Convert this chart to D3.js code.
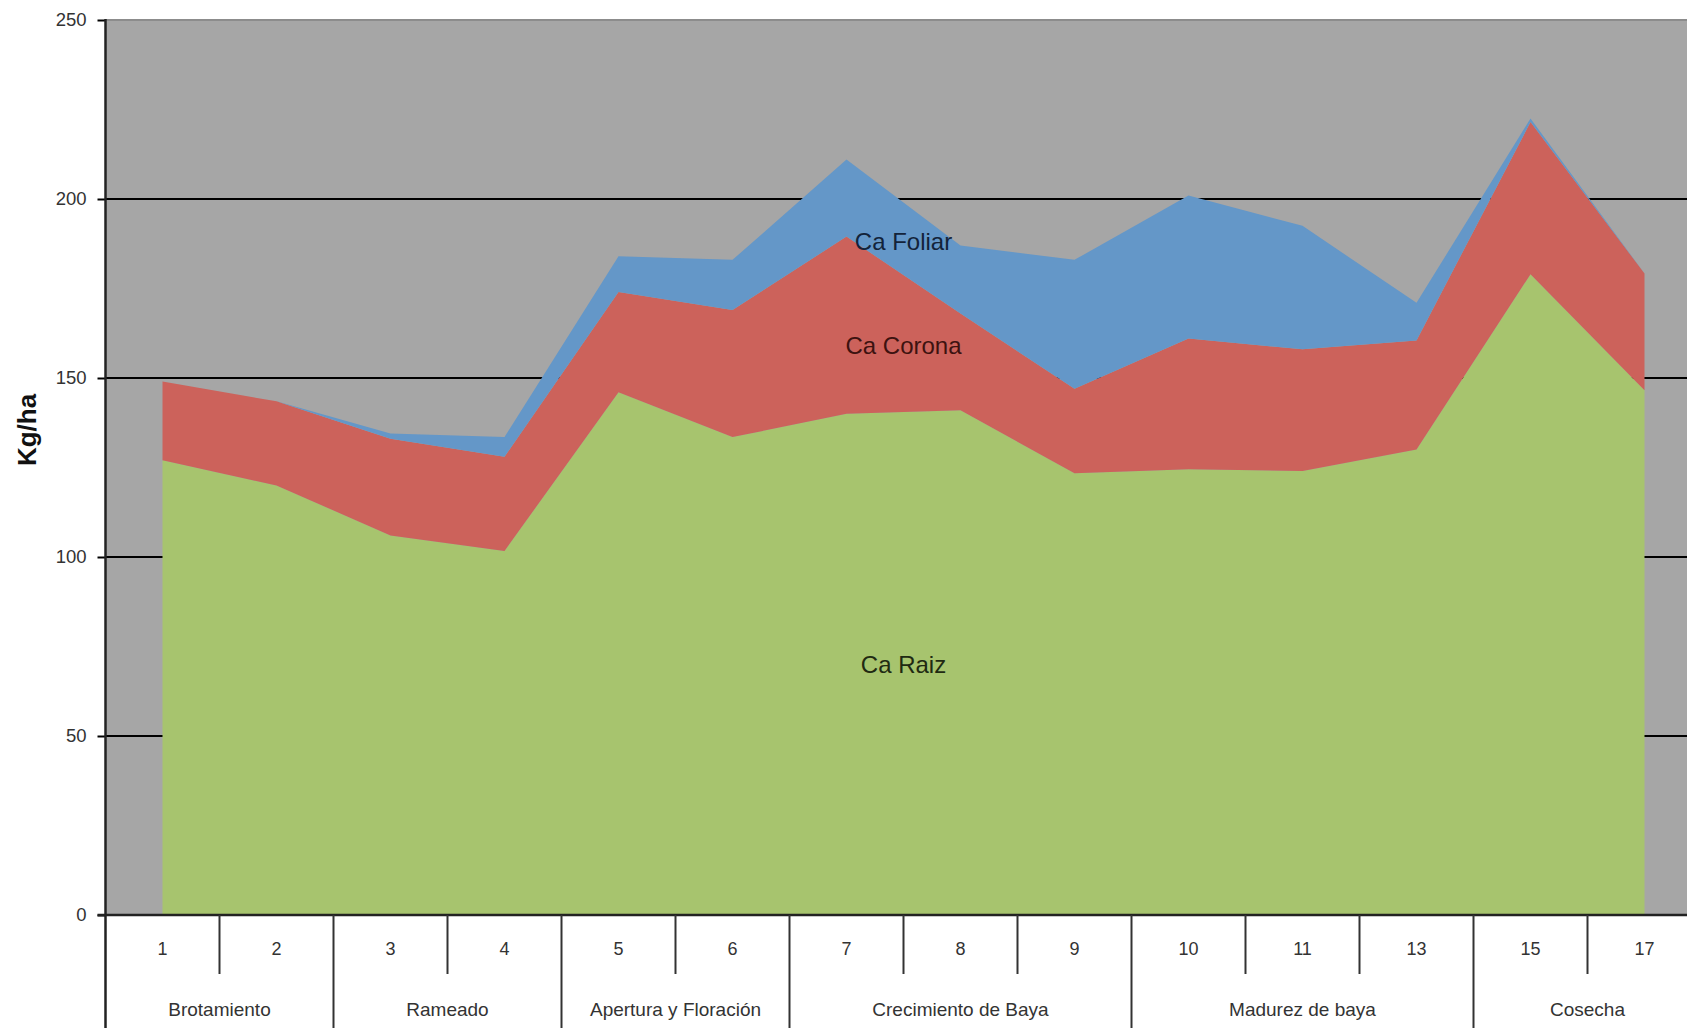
<!DOCTYPE html>
<html>
<head>
<meta charset="utf-8">
<script src="https://cdn.jsdelivr.net/npm/d3@7"></script>
<style>
  body { margin: 0; background: #fff; overflow: hidden; }
  svg { display: block; font-family: Arial, "Liberation Sans", sans-serif; }
</style>
</head>
<body>
<div id="chart"></div>
<script>
// categories (muestreos) and phenological stages
var categories = ["1", "2", "3", "4", "5", "6", "7", "8", "9", "10", "11", "13", "15", "17"];
var stages = [
    { name: "Brotamiento", from: "1", to: "2" },
    { name: "Rameado", from: "3", to: "4" },
    { name: "Apertura y Floración", from: "5", to: "6" },
    { name: "Crecimiento de Baya", from: "7", to: "9" },
    { name: "Madurez de baya", from: "10", to: "13" },
    { name: "Cosecha", from: "15", to: "17" }
];

// stacked series, Kg/ha
var caRaiz   = [127, 120, 106, 101.7, 146, 133.5, 140, 141, 123.4, 124.5, 124, 130, 179, 146.6];
var caCorona = [22, 23.5, 27, 26.3, 28, 35.5, 49.5, 27, 23.6, 36.5, 34, 30.5, 42.5, 32.6];
var caFoliar = [0, 0, 1.5, 5.5, 10, 14, 21.5, 19, 36, 40, 34.5, 10.5, 1, 0];

var yTicks = [0, 50, 100, 150, 200, 250];

var seriesNames = ["Ca Raiz", "Ca Corona", "Ca Foliar"];
var seriesColors = ["#a7c46e", "#cc625b", "#6497c8"];
var labelColors = ["#1f2a12", "#3d1210", "#13233a"];
// where the series names sit inside the areas (category, value)
var labelPos = [["7", 70], ["7", 159], ["7", 188]];

// size of the svg and plot area (the plot runs past the right edge of the picture)
var W = 1687, H = 1028;
var plotLeft = 105.5, plotTop = 20, plotBottom = 915, plotRight = 105.5 + 14 * 114;

var rows = categories.map(function (c, i) {
    return { cat: c, "Ca Raiz": caRaiz[i], "Ca Corona": caCorona[i], "Ca Foliar": caFoliar[i] };
});
var stacked = d3.stack().keys(seriesNames)(rows);

var x = d3.scaleBand().domain(categories).range([plotLeft, plotRight]).padding(0);
var y = d3.scaleLinear().domain([0, 250]).range([plotBottom, plotTop]);
var cx = function (c) { return x(c) + x.bandwidth() / 2; };

var svg = d3.select("#chart").append("svg")
    .attr("width", W)
    .attr("height", H);

// plot background
svg.append("rect")
    .attr("x", plotLeft).attr("y", plotTop)
    .attr("width", plotRight - plotLeft).attr("height", plotBottom - plotTop)
    .style("fill", "#a6a6a6");
svg.append("line")
    .attr("x1", plotLeft).attr("x2", plotRight).attr("y1", plotTop).attr("y2", plotTop)
    .style("stroke", "#8c8c8c").style("stroke-width", 2);

// grid lines
svg.selectAll("line.grid").data(yTicks.slice(1, -1))
    .enter().append("line")
    .attr("class", "grid")
    .attr("x1", plotLeft).attr("x2", plotRight)
    .attr("y1", function (d) { return y(d); })
    .attr("y2", function (d) { return y(d); })
    .style("stroke", "#000").style("stroke-width", 2);

// stacked areas
var area = d3.area()
    .x(function (d) { return cx(d.data.cat); })
    .y0(function (d) { return y(d[0]); })
    .y1(function (d) { return y(d[1]); });

svg.selectAll("path.layer").data(stacked)
    .enter().append("path")
    .attr("class", "layer")
    .attr("d", area)
    .style("fill", function (d, i) { return seriesColors[i]; });

// series labels
svg.selectAll("text.series").data(seriesNames)
    .enter().append("text")
    .attr("class", "series")
    .attr("x", function (d, i) { return cx(labelPos[i][0]) + 57; })
    .attr("y", function (d, i) { return y(labelPos[i][1]); })
    .attr("text-anchor", "middle")
    .attr("dominant-baseline", "central")
    .style("font-size", "24px")
    .style("fill", function (d, i) { return labelColors[i]; })
    .text(function (d) { return d; });

// y axis
var yAxis = svg.append("g")
    .attr("transform", "translate(" + plotLeft + ",0)")
    .call(d3.axisLeft(y).tickValues(yTicks).tickSize(8).tickPadding(11));
yAxis.select(".domain").remove();
yAxis.selectAll(".tick line").style("stroke", "#000").style("stroke-width", 2);
yAxis.selectAll(".tick text")
    .style("font-size", "18.5px")
    .style("fill", "#333")
    .style("font-family", "Arial, 'Liberation Sans', sans-serif");

svg.append("line")
    .attr("x1", plotLeft).attr("x2", plotLeft).attr("y1", plotTop - 1).attr("y2", H)
    .style("stroke", "#222").style("stroke-width", 2.5);

// x axis line
svg.append("line")
    .attr("x1", plotLeft - 8).attr("x2", plotRight).attr("y1", plotBottom).attr("y2", plotBottom)
    .style("stroke", "#222").style("stroke-width", 2.5);

// category numbers
svg.selectAll("text.cat").data(categories)
    .enter().append("text")
    .attr("class", "cat")
    .attr("x", function (d) { return cx(d); })
    .attr("y", 949)
    .attr("text-anchor", "middle")
    .attr("dominant-baseline", "central")
    .style("font-size", "18px")
    .style("fill", "#333")
    .text(function (d) { return d; });

// separators between categories (short) and stages (long)
var stageStarts = stages.map(function (s) { return s.from; });
svg.selectAll("line.sep").data(categories.slice(1))
    .enter().append("line")
    .attr("class", "sep")
    .attr("x1", function (d) { return x(d); })
    .attr("x2", function (d) { return x(d); })
    .attr("y1", plotBottom)
    .attr("y2", function (d) { return stageStarts.indexOf(d) >= 0 ? H : 974; })
    .style("stroke", "#333").style("stroke-width", 2);

// stage labels
svg.selectAll("text.stage").data(stages)
    .enter().append("text")
    .attr("class", "stage")
    .attr("x", function (d) { return (x(d.from) + x(d.to) + x.bandwidth()) / 2; })
    .attr("y", 1009)
    .attr("text-anchor", "middle")
    .attr("dominant-baseline", "central")
    .style("font-size", "19px")
    .style("fill", "#333")
    .text(function (d) { return d.name; });

// y axis title
svg.append("text")
    .attr("transform", "translate(27," + 430 + ") rotate(-90)")
    .attr("text-anchor", "middle")
    .attr("dominant-baseline", "central")
    .style("font-size", "26px")
    .style("font-weight", "bold")
    .style("fill", "#111")
    .text("Kg/ha");
</script>
</body>
</html>
